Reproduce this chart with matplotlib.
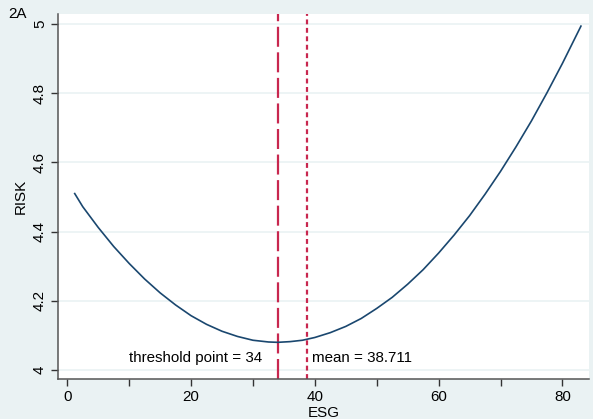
import matplotlib
matplotlib.use("Agg")
import matplotlib.pyplot as plt

plt.rcParams['font.family'] = ['Liberation Sans', 'DejaVu Sans']

# fitted RISK
esg = [1.2, 2.5, 5, 7.5, 10, 12.5, 15, 17.5, 20, 22.5, 25, 27.5, 30, 32.5, 34,
       36, 38, 40, 42.5, 45, 47.5, 50, 52.5, 55, 57.5, 60, 62.5, 65, 67.5, 70,
       72.5, 75, 77.5, 80, 82.5, 83]
risk = [4.510, 4.472, 4.412, 4.357, 4.308, 4.263, 4.223, 4.188, 4.157, 4.132,
        4.112, 4.097, 4.086, 4.081, 4.080,
        4.082, 4.086, 4.094, 4.108, 4.126, 4.149, 4.178, 4.210, 4.248, 4.290,
        4.338, 4.390, 4.446, 4.508, 4.574, 4.645, 4.720, 4.801, 4.886, 4.976,
        4.994]

threshold = 34
mean_esg = 38.711
yticks = [4, 4.2, 4.4, 4.6, 4.8, 5]
xticks = [0, 20, 40, 60, 80]

bg = '#eaf2f3'
navy = '#1a476f'
red = '#c8274f'

fig = plt.figure(figsize=(5.93, 4.19), dpi=100, facecolor=bg)
ax = fig.add_axes([58 / 593, 40 / 419, 531 / 593, 365 / 419])
ax.set_facecolor('white')

for yv in yticks:
    ax.axhline(yv, color=bg, lw=1.2, zorder=0)

ax.plot(esg, risk, color=navy, lw=1.2, zorder=3, solid_joinstyle='round')
ax.axvline(threshold, color=red, lw=1.6, dashes=(9, 2.5), zorder=2)
ax.axvline(mean_esg, color=red, lw=1.6, dashes=(2.2, 1.6), zorder=2)

ax.text(threshold - 2.5, 4.035, "threshold point = %d" % threshold,
        ha='right', va='center', fontsize=10.9)
ax.text(mean_esg + 0.8, 4.035, "mean = %s" % mean_esg,
        ha='left', va='center', fontsize=10.9)

ax.set_xlim(-1.5, 84.3)
ax.set_ylim(3.974, 5.029)
ax.set_xticks(xticks)
ax.set_xticks([10, 30, 50, 70], minor=True)
ax.set_yticks(yticks)
ax.set_yticklabels(['4', '4.2', '4.4', '4.6', '4.8', '5'], rotation=90, va='center')
ax.tick_params(which='both', direction='out', length=5, width=1, color='#333333',
               labelsize=10.9, pad=3)

for s in ['top', 'right']:
    ax.spines[s].set_visible(False)
for s in ['left', 'bottom']:
    ax.spines[s].set_color('#555555')
    ax.spines[s].set_linewidth(1.1)

ax.set_xlabel("ESG", fontsize=10.9, labelpad=1)
ax.set_ylabel("RISK", fontsize=10.9, labelpad=4)
fig.text(8 / 593, 1 - 14 / 419, "2A", fontsize=10.9, va='center', ha='left')

fig.savefig("out.png", dpi=100, facecolor=bg)
